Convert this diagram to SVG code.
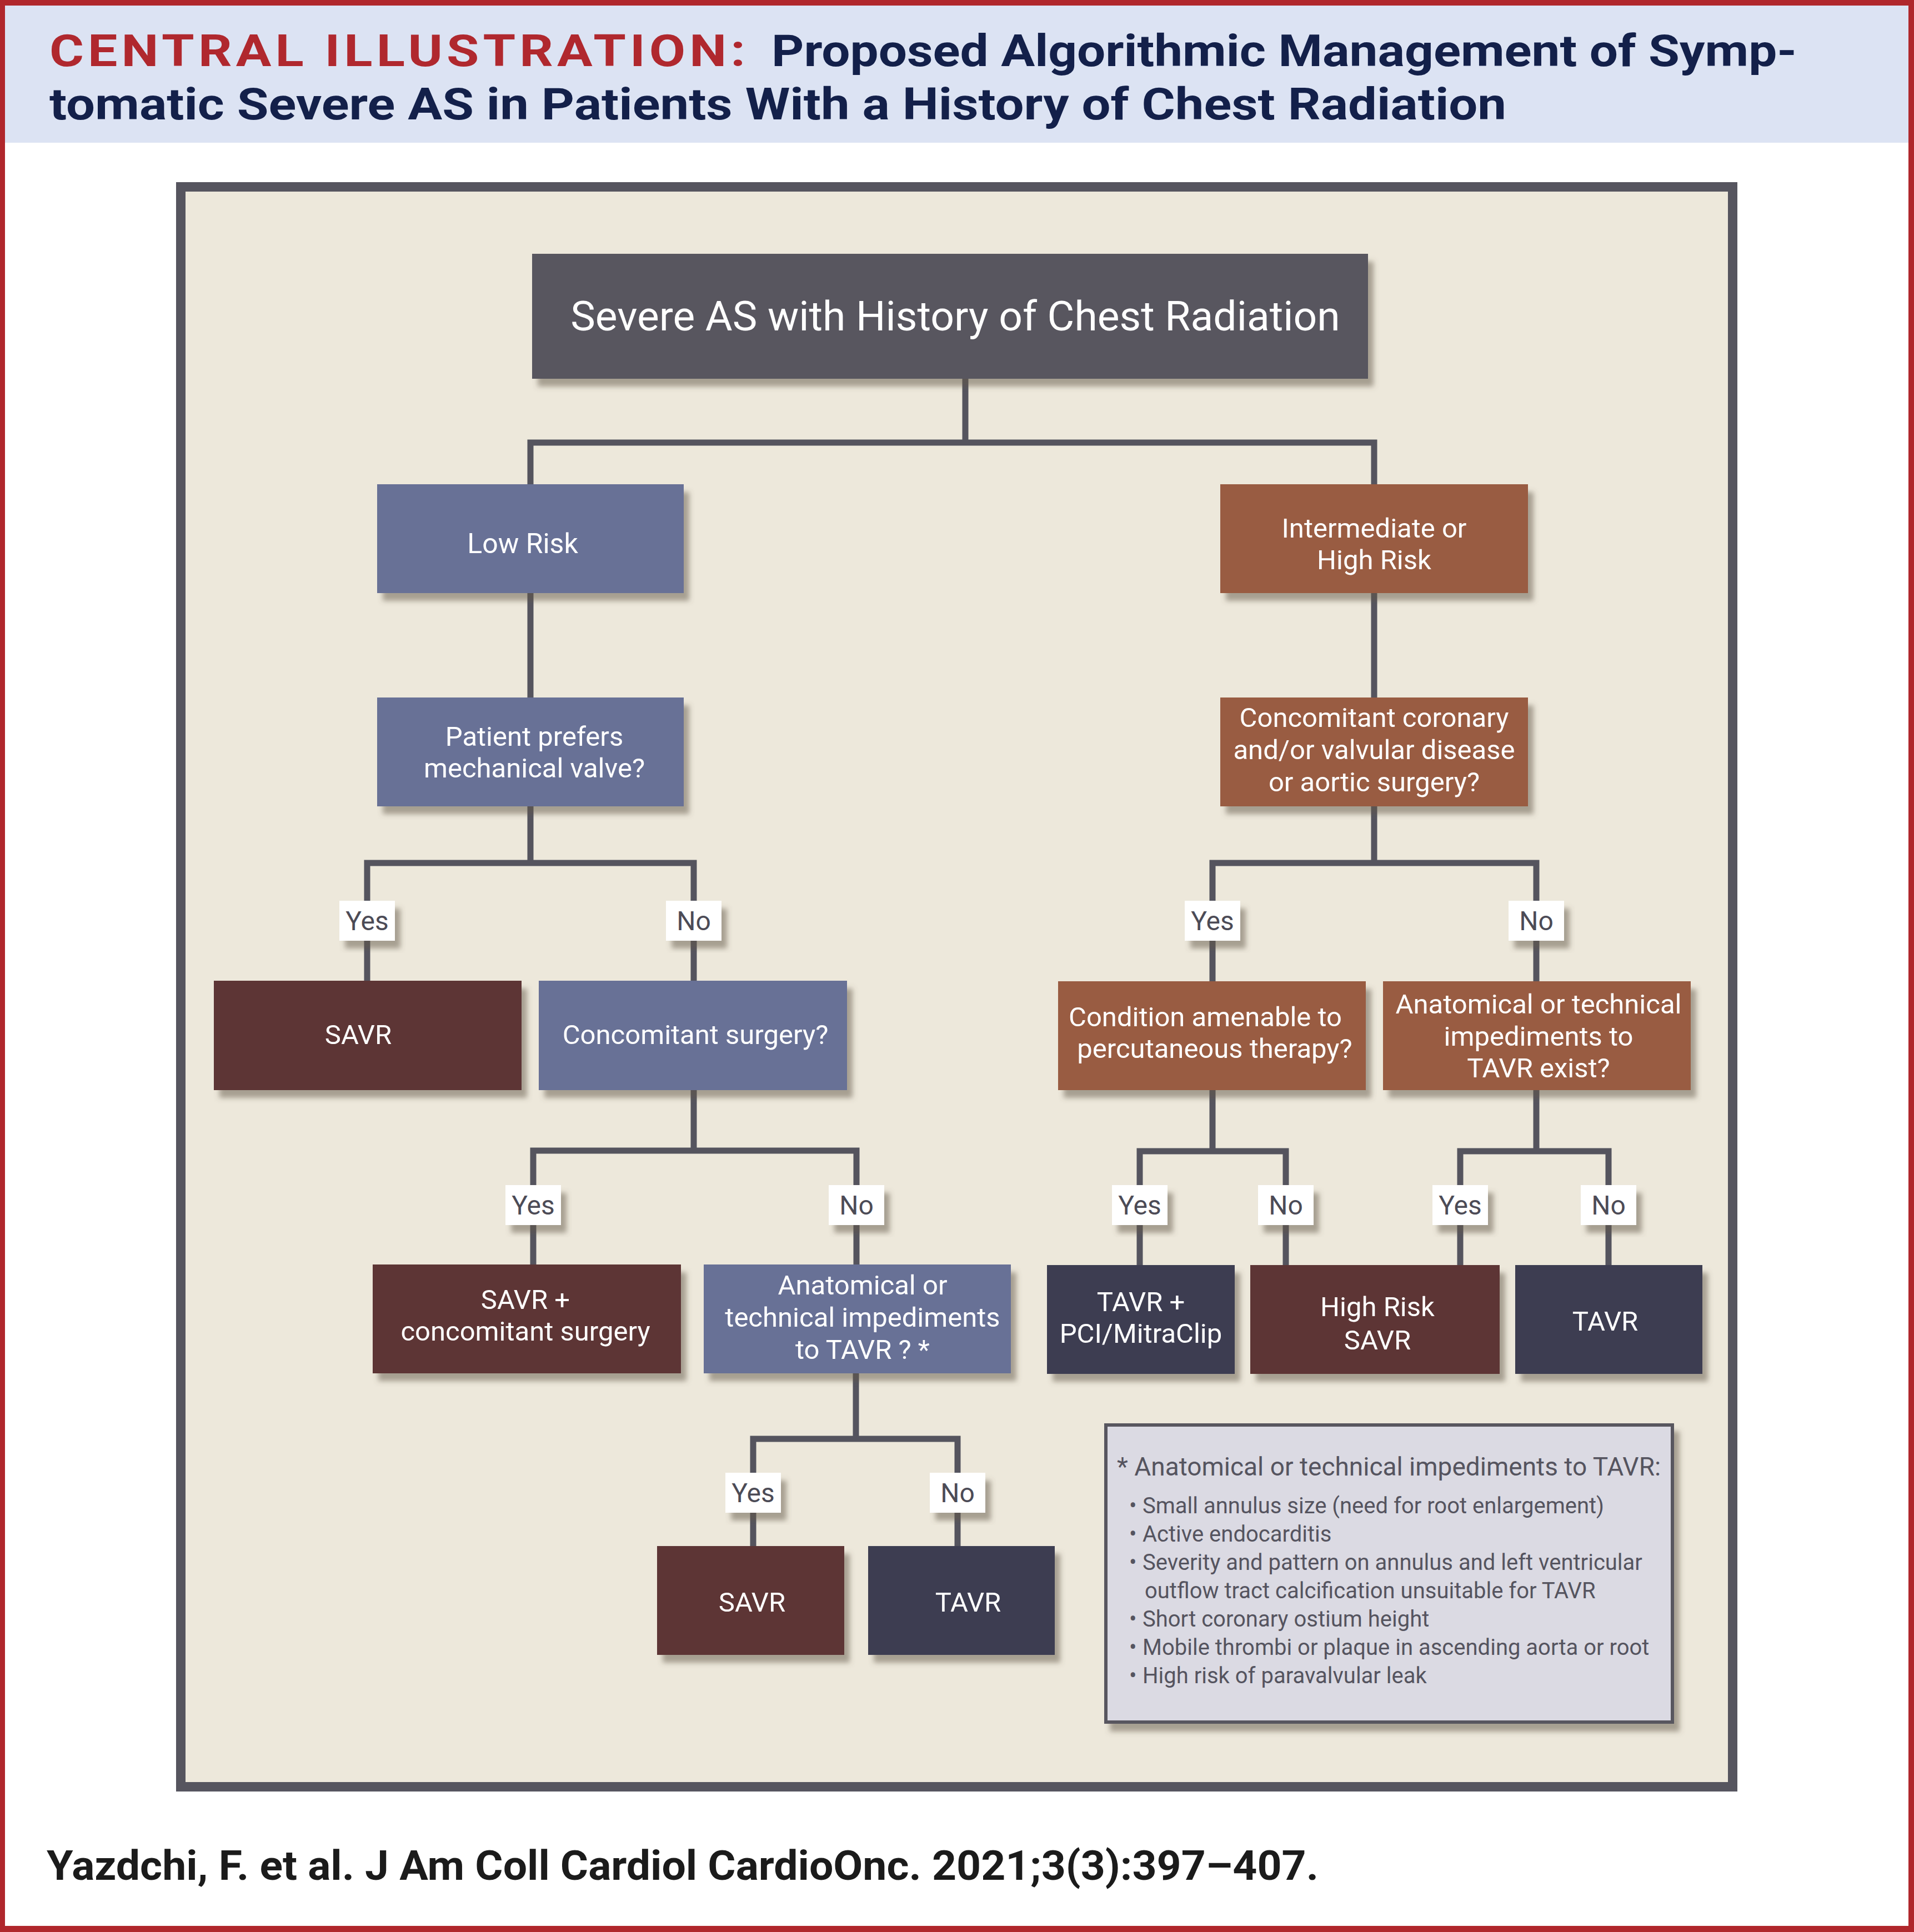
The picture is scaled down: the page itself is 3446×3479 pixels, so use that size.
<svg xmlns="http://www.w3.org/2000/svg" width="3446" height="3479" viewBox="0 0 3446 3479">
<defs>
<filter id="sh" x="-10%" y="-10%" width="130%" height="140%">
<feDropShadow dx="10" dy="14" stdDeviation="5" flood-color="#5e5444" flood-opacity="0.5"/>
</filter>
<style>
.nt{font-family:Roboto,"Noto Sans","Liberation Sans",sans-serif;fill:#ffffff;text-anchor:middle;font-size:49px}
.lb{font-family:Roboto,"Noto Sans","Liberation Sans",sans-serif;fill:#4c4b56;text-anchor:middle;font-size:48px}
.lg{font-family:Roboto,"Noto Sans","Liberation Sans",sans-serif;fill:#55545f;font-size:40px}
.conn{fill:none;stroke:#55545e;stroke-width:11;stroke-linejoin:miter;stroke-linecap:butt}
.lbox{fill:#ffffff;filter:url(#sh)}
.box{filter:url(#sh)}
.blue{fill:#687196}.rust{fill:#995b42}.maroon{fill:#5d3635}.navy{fill:#3e3c51}.gray{fill:#58575f}
</style>
</defs>
<rect x="0" y="0" width="3446" height="3479" fill="#b0272c"/>
<rect x="9" y="10" width="3427" height="3458" fill="#ffffff"/>
<rect x="9" y="10" width="3427" height="247" fill="#dce3f3"/>
<g id="title" font-family="Roboto,'Noto Sans','Liberation Sans',sans-serif" font-weight="bold" font-size="80">
<text x="89" y="119" fill="#b0282e" letter-spacing="6" textLength="1260" lengthAdjust="spacingAndGlyphs">CENTRAL ILLUSTRATION:</text>
<text x="1389" y="119" fill="#13204a" textLength="1846" lengthAdjust="spacingAndGlyphs">Proposed Algorithmic Management of Symp-</text>
<text x="89" y="215" fill="#13204a" textLength="2623" lengthAdjust="spacingAndGlyphs">tomatic Severe AS in Patients With a History of Chest Radiation</text>
</g>
<rect x="325.500" y="336.500" width="2794" height="2881" fill="#ede8db" stroke="#56555f" stroke-width="17"/>
<g id="connectors">
<path class="conn" d="M1738 682 V797"/>
<path class="conn" d="M955 872 V797 H2474 V872"/>
<path class="conn" d="M955 1068 V1256"/>
<path class="conn" d="M2474 1068 V1256"/>
<path class="conn" d="M955 1452 V1554"/>
<path class="conn" d="M661 1766 V1554 H1249 V1766"/>
<path class="conn" d="M2474 1452 V1554"/>
<path class="conn" d="M2183 1767 V1554 H2766 V1767"/>
<path class="conn" d="M1249 1963 V2072"/>
<path class="conn" d="M960 2277 V2072 H1542 V2277"/>
<path class="conn" d="M2183 1963 V2073"/>
<path class="conn" d="M2052 2278 V2073 H2315 V2278"/>
<path class="conn" d="M2766 1963 V2073"/>
<path class="conn" d="M2629 2278 V2073 H2896 V2278"/>
<path class="conn" d="M1541 2473 V2591"/>
<path class="conn" d="M1356 2784 V2591 H1724 V2784"/>
</g>
<g id="labels">
<g id="l1y"><rect class="lbox" x="611" y="1622" width="100" height="72"/><text class="lb" x="661" y="1675">Yes</text></g>
<g id="l1n"><rect class="lbox" x="1199" y="1622" width="100" height="72"/><text class="lb" x="1249" y="1675">No</text></g>
<g id="l2y"><rect class="lbox" x="2133" y="1622" width="100" height="72"/><text class="lb" x="2183" y="1675">Yes</text></g>
<g id="l2n"><rect class="lbox" x="2716" y="1622" width="100" height="72"/><text class="lb" x="2766" y="1675">No</text></g>
<g id="l3y"><rect class="lbox" x="910" y="2134" width="100" height="72"/><text class="lb" x="960" y="2187">Yes</text></g>
<g id="l3n"><rect class="lbox" x="1492" y="2134" width="100" height="72"/><text class="lb" x="1542" y="2187">No</text></g>
<g id="l4y"><rect class="lbox" x="2002" y="2134" width="100" height="72"/><text class="lb" x="2052" y="2187">Yes</text></g>
<g id="l4n"><rect class="lbox" x="2265" y="2134" width="100" height="72"/><text class="lb" x="2315" y="2187">No</text></g>
<g id="l5y"><rect class="lbox" x="2579" y="2134" width="100" height="72"/><text class="lb" x="2629" y="2187">Yes</text></g>
<g id="l5n"><rect class="lbox" x="2846" y="2134" width="100" height="72"/><text class="lb" x="2896" y="2187">No</text></g>
<g id="l6y"><rect class="lbox" x="1306" y="2652" width="100" height="72"/><text class="lb" x="1356" y="2705">Yes</text></g>
<g id="l6n"><rect class="lbox" x="1674" y="2652" width="100" height="72"/><text class="lb" x="1724" y="2705">No</text></g>
</g>
<g id="n_root"><rect class="box gray" x="958" y="457" width="1505" height="225"/><text class="nt" x="1720" y="595" style="font-size:75px">Severe AS with History of Chest Radiation</text></g>
<g id="n_low"><rect class="box blue" x="679" y="872" width="552" height="196"/><text class="nt" x="941" y="996" style="font-size:50px">Low Risk</text></g>
<g id="n_int"><rect class="box rust" x="2197" y="872" width="554" height="196"/><text class="nt" x="2474"><tspan x="2474" y="968">Intermediate or</tspan><tspan x="2474" y="1025">High Risk</tspan></text></g>
<g id="n_pref"><rect class="box blue" x="679" y="1256" width="552" height="196"/><text class="nt"><tspan x="962" y="1343">Patient prefers</tspan><tspan x="962" y="1400">mechanical valve?</tspan></text></g>
<g id="n_conc_cor"><rect class="box rust" x="2197" y="1256" width="554" height="196"/><text class="nt"><tspan x="2474" y="1309">Concomitant coronary</tspan><tspan x="2474" y="1367">and/or valvular disease</tspan><tspan x="2474" y="1425">or aortic surgery?</tspan></text></g>
<g id="n_savr1"><rect class="box maroon" x="385" y="1766" width="554" height="197"/><text class="nt" x="645" y="1880">SAVR</text></g>
<g id="n_concsurg"><rect class="box blue" x="970" y="1766" width="555" height="197"/><text class="nt" x="1252" y="1880">Concomitant surgery?</text></g>
<g id="n_cond"><rect class="box rust" x="1905" y="1767" width="554" height="196"/><text class="nt"><tspan x="2170" y="1848">Condition amenable to</tspan><tspan x="2187" y="1905">percutaneous therapy?</tspan></text></g>
<g id="n_anat_r"><rect class="box rust" x="2490" y="1767" width="554" height="196"/><text class="nt"><tspan x="2770" y="1825">Anatomical or technical</tspan><tspan x="2770" y="1883">impediments to</tspan><tspan x="2770" y="1940">TAVR exist?</tspan></text></g>
<g id="n_savr_conc"><rect class="box maroon" x="671" y="2277" width="555" height="196"/><text class="nt"><tspan x="946" y="2357">SAVR +</tspan><tspan x="946" y="2414">concomitant surgery</tspan></text></g>
<g id="n_anat_l"><rect class="box blue" x="1267" y="2277" width="553" height="196"/><text class="nt"><tspan x="1553" y="2331">Anatomical or</tspan><tspan x="1553" y="2389">technical impediments</tspan><tspan x="1553" y="2447">to TAVR ? *</tspan></text></g>
<g id="n_tavr_pci"><rect class="box navy" x="1885" y="2278" width="338" height="196"/><text class="nt"><tspan x="2054" y="2361">TAVR +</tspan><tspan x="2054" y="2418">PCI/MitraClip</tspan></text></g>
<g id="n_hr_savr"><rect class="box maroon" x="2251" y="2278" width="449" height="196"/><text class="nt"><tspan x="2480" y="2370">High Risk</tspan><tspan x="2480" y="2430">SAVR</tspan></text></g>
<g id="n_tavr_r"><rect class="box navy" x="2728" y="2278" width="337" height="196"/><text class="nt" x="2890" y="2396">TAVR</text></g>
<g id="n_savr_b"><rect class="box maroon" x="1183" y="2784" width="337" height="196"/><text class="nt" x="1354" y="2902">SAVR</text></g>
<g id="n_tavr_b"><rect class="box navy" x="1563" y="2784" width="336" height="196"/><text class="nt" x="1743" y="2902">TAVR</text></g>
<g id="legend">
<rect x="1991" y="2566" width="1020" height="535" fill="#dbdae3" stroke="#58575f" stroke-width="6" filter="url(#sh)"/>
<text class="lg" x="2011" y="2657" style="font-size:46px">* Anatomical or technical impediments to TAVR:</text>
<text class="lg"><tspan x="2033" y="2725">•</tspan><tspan x="2057" y="2725">Small annulus size (need for root enlargement)</tspan></text>
<text class="lg"><tspan x="2033" y="2776">•</tspan><tspan x="2057" y="2776">Active endocarditis</tspan></text>
<text class="lg"><tspan x="2033" y="2827">•</tspan><tspan x="2057" y="2827">Severity and pattern on annulus and left ventricular</tspan></text>
<text class="lg" x="2061" y="2878">outflow tract calcification unsuitable for TAVR</text>
<text class="lg"><tspan x="2033" y="2929">•</tspan><tspan x="2057" y="2929">Short coronary ostium height</tspan></text>
<text class="lg"><tspan x="2033" y="2980">•</tspan><tspan x="2057" y="2980">Mobile thrombi or plaque in ascending aorta or root</tspan></text>
<text class="lg"><tspan x="2033" y="3031">•</tspan><tspan x="2057" y="3031">High risk of paravalvular leak</tspan></text>
</g>
<text id="footer" x="84" y="3385" font-family="Roboto,'Noto Sans','Liberation Sans',sans-serif" font-weight="bold" font-size="74" fill="#1b1b1b" textLength="2290" lengthAdjust="spacingAndGlyphs">Yazdchi, F. et al. J Am Coll Cardiol CardioOnc. 2021;3(3):397–407.</text>
</svg>
